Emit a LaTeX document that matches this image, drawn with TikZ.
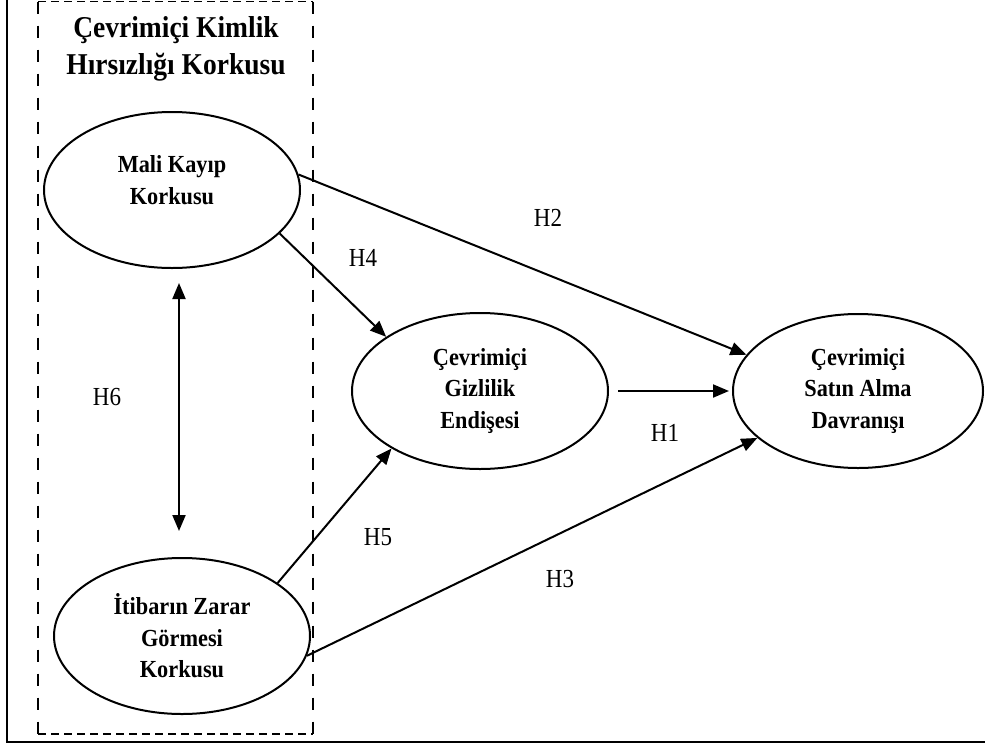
\documentclass[tikz,border=0pt]{standalone}
\usepackage{fontspec}
\setmainfont{Liberation Serif}
\usetikzlibrary{arrows.meta,shapes.geometric}
\newcommand{\vsl}[1]{\scalebox{1}[1.1]{#1}}
\newcommand{\vsh}[1]{\scalebox{1}[1.13]{#1}}
\begin{document}
\begin{tikzpicture}[x=1pt,y=-1pt,
  latent/.style={ellipse,draw,line width=2pt,inner sep=0pt,minimum width=256pt,minimum height=156pt,
    font=\fontsize{22.3}{31.5}\selectfont\bfseries,align=center},
  conn/.style={line width=2pt,-{Triangle[length=16pt,width=13pt]}},
  hlab/.style={font=\fontsize{23}{26}\selectfont,inner sep=0pt},
  vdash/.style={line width=1.8pt,dash pattern=on 12pt off 12pt},
  hdash/.style={line width=1.8pt,dash pattern=on 8pt off 5pt}]
\useasboundingbox (0,0) rectangle (985,747);
% outer frame (only left and bottom visible)
\draw[line width=1.6pt] (7,-20) rectangle (1000,742);
% dashed group box
\coordinate (g1) at (38,1.5);
\coordinate (g2) at (313,1.5);
\coordinate (g3) at (313,734);
\coordinate (g4) at (38,734);
\draw[vdash] (g1) -- (g4);
\draw[vdash] (g2) -- (g3);
\draw[hdash] (g1) -- (g2);
\draw[hdash] (g4) -- (g3);
\node[font=\fontsize{27.5}{37}\selectfont\bfseries,align=center] (title) at (176,49) {\vsl{Çevrimiçi Kimlik}\\\vsl{Hırsızlığı Korkusu}};
% latent variables
\node[latent] (mali) at (172,190) {};
\node[font=\fontsize{22.3}{31.5}\selectfont\bfseries,align=center] (malitext) at (172,180) {\vsl{Mali Kayıp}\\\vsl{Korkusu}};
\node[latent] (itib) at (182,636) {\vsl{İtibarın Zarar}\\\vsl{Görmesi}\\\vsl{Korkusu}};
\node[latent] (gizl) at (480,391) {\vsl{Çevrimiçi}\\\vsl{Gizlilik}\\\vsl{Endişesi}};
\node[latent,minimum width=250pt,minimum height=154pt] (satin) at (858,391) {\vsl{Çevrimiçi}\\\vsl{Satın Alma}\\\vsl{Davranışı}};
% paths
\draw[conn] (mali.7.5) -- (satin.162);
\draw[conn] (mali.-22) -- (gizl.150);
\draw[conn,shorten <=9pt,shorten >=3pt] (gizl.east) -- (satin.west);
\draw[conn] (itib.-9.5) -- (satin.205.7);
\draw[conn] (itib.29.4) -- (gizl.213);
\draw[line width=2pt,{Triangle[length=16pt,width=13pt]}-{Triangle[length=16pt,width=13pt]},shorten <=14pt,shorten >=26pt]
  ([xshift=7pt]mali.south) -- ([xshift=-3pt]itib.north);
% hypothesis labels
\node[hlab] (h1) at (665,433) {\vsh{H1}};
\node[hlab] (h2) at (548,218) {\vsh{H2}};
\node[hlab] (h3) at (560,579) {\vsh{H3}};
\node[hlab] (h4) at (363,258) {\vsh{H4}};
\node[hlab] (h5) at (378,537) {\vsh{H5}};
\node[hlab] (h6) at (107,397) {\vsh{H6}};
\end{tikzpicture}
\end{document}
